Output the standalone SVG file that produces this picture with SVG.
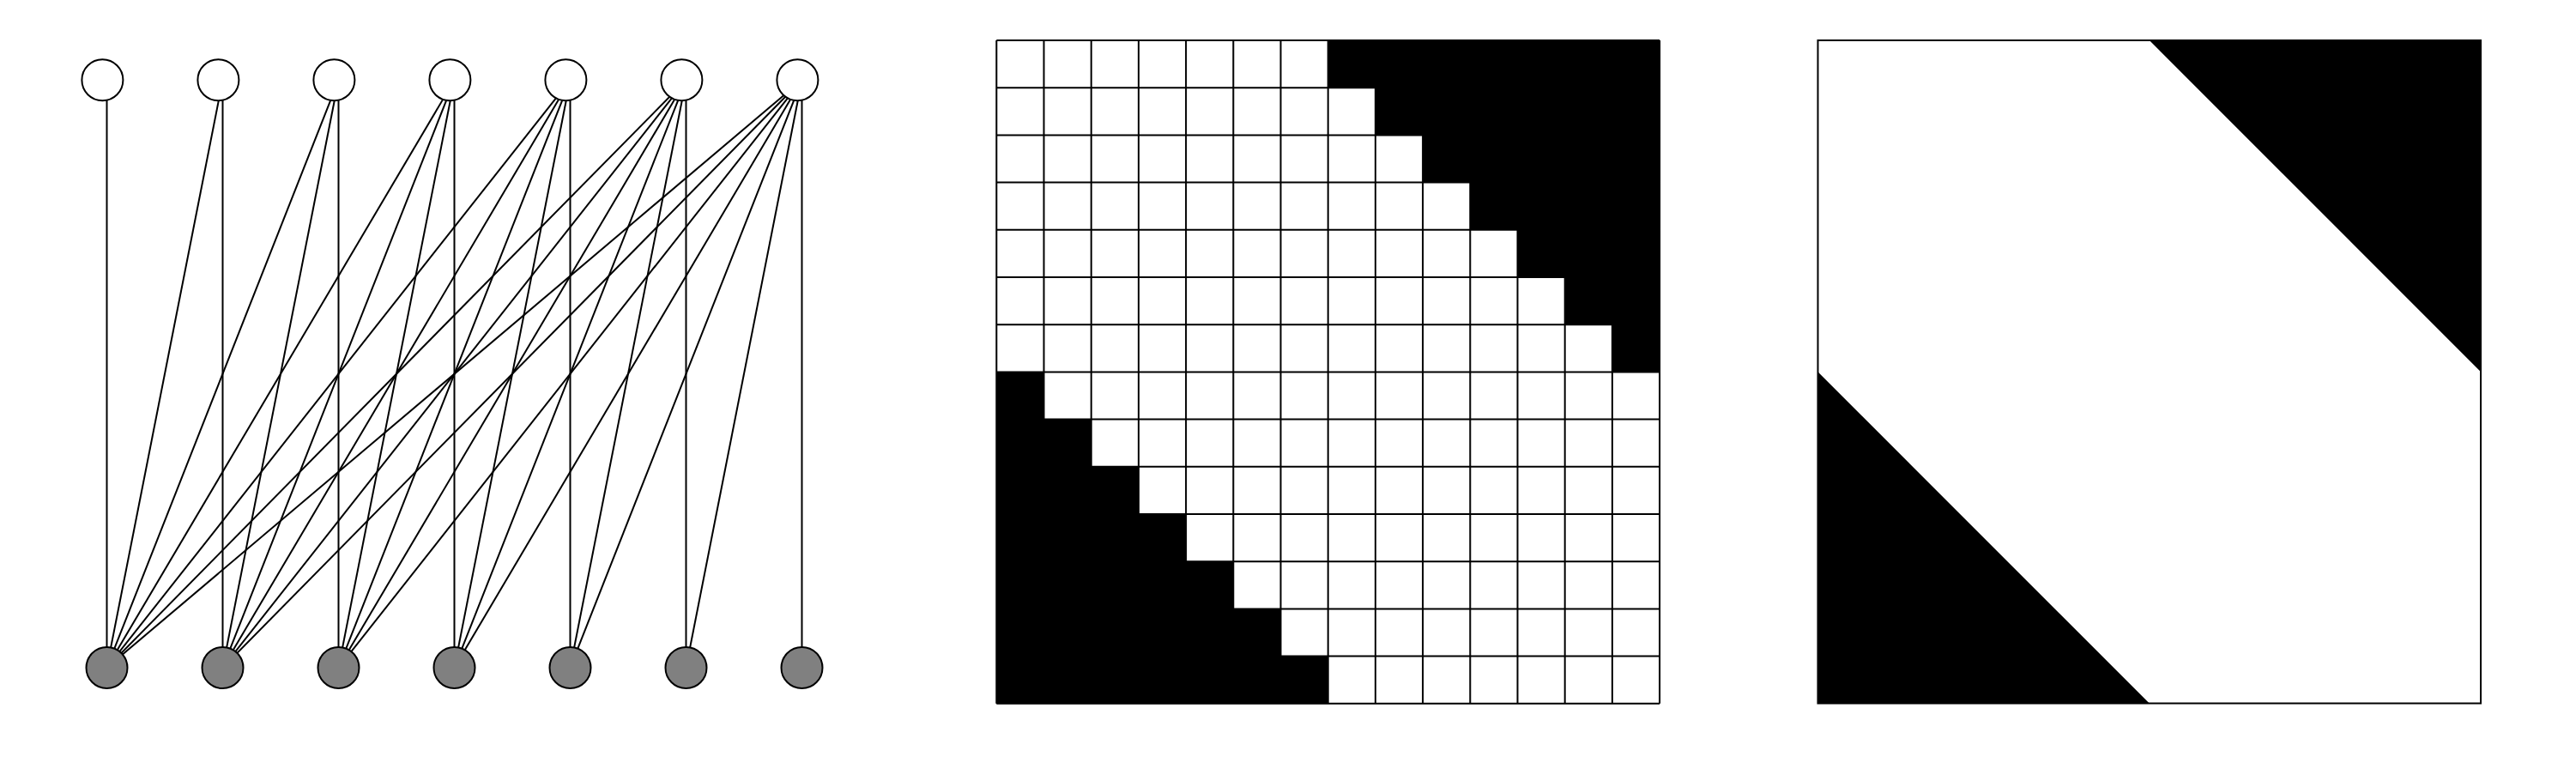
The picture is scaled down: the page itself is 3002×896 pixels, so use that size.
<svg xmlns="http://www.w3.org/2000/svg" width="3002" height="896" viewBox="0 0 3002 896">
<style>
.edge{stroke:#000;stroke-width:2;fill:none}
.top{fill:#fff;stroke:#000;stroke-width:2}
.bot{fill:#808080;stroke:#000;stroke-width:2}
.grid{stroke:#000;stroke-width:2;fill:none}
.blk{fill:#000;stroke:none}
.frame{fill:#fff;stroke:#000;stroke-width:2}
</style>
<rect x="0" y="0" width="3002" height="896" fill="#fff"/>
<g id="connectors">
<line class="edge" x1="124.5" y1="93.3" x2="124.5" y2="778"/>
<line class="edge" x1="259.5" y1="93.3" x2="124.5" y2="778"/>
<line class="edge" x1="259.5" y1="93.3" x2="259.5" y2="778"/>
<line class="edge" x1="394.5" y1="93.3" x2="124.5" y2="778"/>
<line class="edge" x1="394.5" y1="93.3" x2="259.5" y2="778"/>
<line class="edge" x1="394.5" y1="93.3" x2="394.5" y2="778"/>
<line class="edge" x1="529.5" y1="93.3" x2="124.5" y2="778"/>
<line class="edge" x1="529.5" y1="93.3" x2="259.5" y2="778"/>
<line class="edge" x1="529.5" y1="93.3" x2="394.5" y2="778"/>
<line class="edge" x1="529.5" y1="93.3" x2="529.5" y2="778"/>
<line class="edge" x1="664.5" y1="93.3" x2="124.5" y2="778"/>
<line class="edge" x1="664.5" y1="93.3" x2="259.5" y2="778"/>
<line class="edge" x1="664.5" y1="93.3" x2="394.5" y2="778"/>
<line class="edge" x1="664.5" y1="93.3" x2="529.5" y2="778"/>
<line class="edge" x1="664.5" y1="93.3" x2="664.5" y2="778"/>
<line class="edge" x1="799.5" y1="93.3" x2="124.5" y2="778"/>
<line class="edge" x1="799.5" y1="93.3" x2="259.5" y2="778"/>
<line class="edge" x1="799.5" y1="93.3" x2="394.5" y2="778"/>
<line class="edge" x1="799.5" y1="93.3" x2="529.5" y2="778"/>
<line class="edge" x1="799.5" y1="93.3" x2="664.5" y2="778"/>
<line class="edge" x1="799.5" y1="93.3" x2="799.5" y2="778"/>
<line class="edge" x1="934.5" y1="93.3" x2="124.5" y2="778"/>
<line class="edge" x1="934.5" y1="93.3" x2="259.5" y2="778"/>
<line class="edge" x1="934.5" y1="93.3" x2="394.5" y2="778"/>
<line class="edge" x1="934.5" y1="93.3" x2="529.5" y2="778"/>
<line class="edge" x1="934.5" y1="93.3" x2="664.5" y2="778"/>
<line class="edge" x1="934.5" y1="93.3" x2="799.5" y2="778"/>
<line class="edge" x1="934.5" y1="93.3" x2="934.5" y2="778"/>
</g>
<g id="t1"><circle class="top" cx="119.4" cy="93.3" r="24"/></g>
<g id="t2"><circle class="top" cx="254.4" cy="93.3" r="24"/></g>
<g id="t3"><circle class="top" cx="389.4" cy="93.3" r="24"/></g>
<g id="t4"><circle class="top" cx="524.4" cy="93.3" r="24"/></g>
<g id="t5"><circle class="top" cx="659.4" cy="93.3" r="24"/></g>
<g id="t6"><circle class="top" cx="794.4" cy="93.3" r="24"/></g>
<g id="t7"><circle class="top" cx="929.4" cy="93.3" r="24"/></g>
<g id="b1"><circle class="bot" cx="124.5" cy="778" r="24"/></g>
<g id="b2"><circle class="bot" cx="259.5" cy="778" r="24"/></g>
<g id="b3"><circle class="bot" cx="394.5" cy="778" r="24"/></g>
<g id="b4"><circle class="bot" cx="529.5" cy="778" r="24"/></g>
<g id="b5"><circle class="bot" cx="664.5" cy="778" r="24"/></g>
<g id="b6"><circle class="bot" cx="799.5" cy="778" r="24"/></g>
<g id="b7"><circle class="bot" cx="934.5" cy="778" r="24"/></g>
<g id="grid">
<rect x="1161.3" y="47" width="772.8" height="772.8" fill="#fff"/>
<polygon class="blk" points="1547.7,47 1934.1,47 1934.1,433.4 1878.9,433.4 1878.9,378.2 1823.7,378.2 1823.7,323 1768.5,323 1768.5,267.8 1713.3,267.8 1713.3,212.6 1658.1,212.6 1658.1,157.4 1602.9,157.4 1602.9,102.2 1547.7,102.2"/>
<polygon class="blk" points="1161.3,433.4 1216.5,433.4 1216.5,488.6 1271.7,488.6 1271.7,543.8 1326.9,543.8 1326.9,599 1382.1,599 1382.1,654.2 1437.3,654.2 1437.3,709.4 1492.5,709.4 1492.5,764.6 1547.7,764.6 1547.7,819.8 1161.3,819.8"/>
<path class="grid" d="M1161.3 47V819.8M1216.5 47V819.8M1271.7 47V819.8M1326.9 47V819.8M1382.1 47V819.8M1437.3 47V819.8M1492.5 47V819.8M1547.7 47V819.8M1602.9 47V819.8M1658.1 47V819.8M1713.3 47V819.8M1768.5 47V819.8M1823.7 47V819.8M1878.9 47V819.8M1934.1 47V819.8M1161.3 47H1934.1M1161.3 102.2H1934.1M1161.3 157.4H1934.1M1161.3 212.6H1934.1M1161.3 267.8H1934.1M1161.3 323H1934.1M1161.3 378.2H1934.1M1161.3 433.4H1934.1M1161.3 488.6H1934.1M1161.3 543.8H1934.1M1161.3 599H1934.1M1161.3 654.2H1934.1M1161.3 709.4H1934.1M1161.3 764.6H1934.1M1161.3 819.8H1934.1"/>
</g>
<g id="square">
<rect class="frame" x="2118.5" y="47" width="772.5" height="772.5"/>
<polygon class="blk" points="2504.8,47 2891,47 2891,433.2"/>
<polygon class="blk" points="2118.5,433.2 2118.5,819.5 2504.8,819.5"/>
</g>
</svg>
